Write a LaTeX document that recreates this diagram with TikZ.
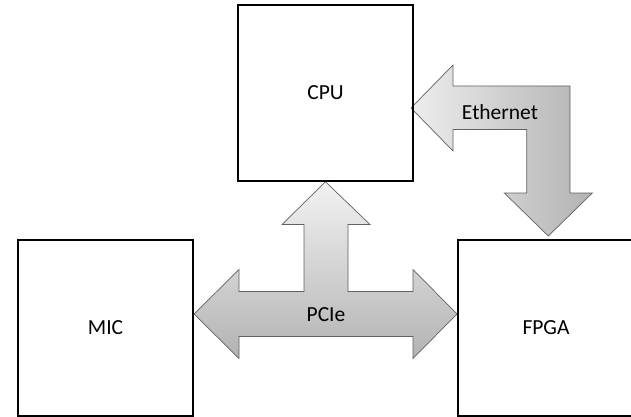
\documentclass[tikz,border=0pt]{standalone}
\usepackage{fontspec}
\setmainfont{Carlito}
\usetikzlibrary{backgrounds,calc}

\tikzset{
  unit/.style={draw=black, line width=2pt, rectangle, minimum width=175pt,
               minimum height=175.5pt, inner sep=0pt,
               font=\fontsize{21.5}{26}\selectfont},
  busarrow/.style={draw=black!62, line width=0.7pt, line join=miter},
  pcieshade/.style={top color=black!5, bottom color=black!30},
  ethshade/.style={left color=black!7, right color=black!30},
  buslabel/.style={font=\fontsize{21.5}{26}\selectfont, inner sep=0pt}
}

\begin{document}
\begin{tikzpicture}[x=1pt, y=-1pt]
\useasboundingbox (0,0) rectangle (631,417);

% processing units
\node[unit] (cpu)  at (325.5, 93) {CPU};
\node[unit, minimum height=176pt] (mic)  at (105.5, 328) {MIC};
\node[unit, minimum width=176pt, minimum height=176pt] (fpga) at (546, 328) {FPGA};

\begin{pgfonlayer}{background}
  % PCIe: T-shaped bus joining MIC, FPGA and CPU
  \path[busarrow, pcieshade]
    (mic.east |- 0,314) -- (239,269.5) -- (239,291.5) -- (304,291.5)
    -- (304,224.5) -- (282,224.5) -- (cpu.south) -- (370,224.5)
    -- (348,224.5) -- (348,291.5) -- (413,291.5) -- (413,269.5)
    -- (fpga.west |- 0,314) -- (413,358.5) -- (413,336.5)
    -- (239,336.5) -- (239,358.5) -- cycle;

  % Ethernet: bent link from FPGA up to CPU
  \path[busarrow, ethshade]
    (411,108) -- (453,65) -- (453,86) -- (570,86) -- (570,193)
    -- (592.3,193) -- (548.3,236) -- (504.3,193) -- (526.7,193)
    -- (526.7,129.5) -- (453,129.5) -- (453,151) -- cycle;
\end{pgfonlayer}

\node[buslabel] (pcie) at (326, 315) {PCIe};
\node[buslabel] (eth)  at (500, 112) {Ethernet};
\end{tikzpicture}
\end{document}
